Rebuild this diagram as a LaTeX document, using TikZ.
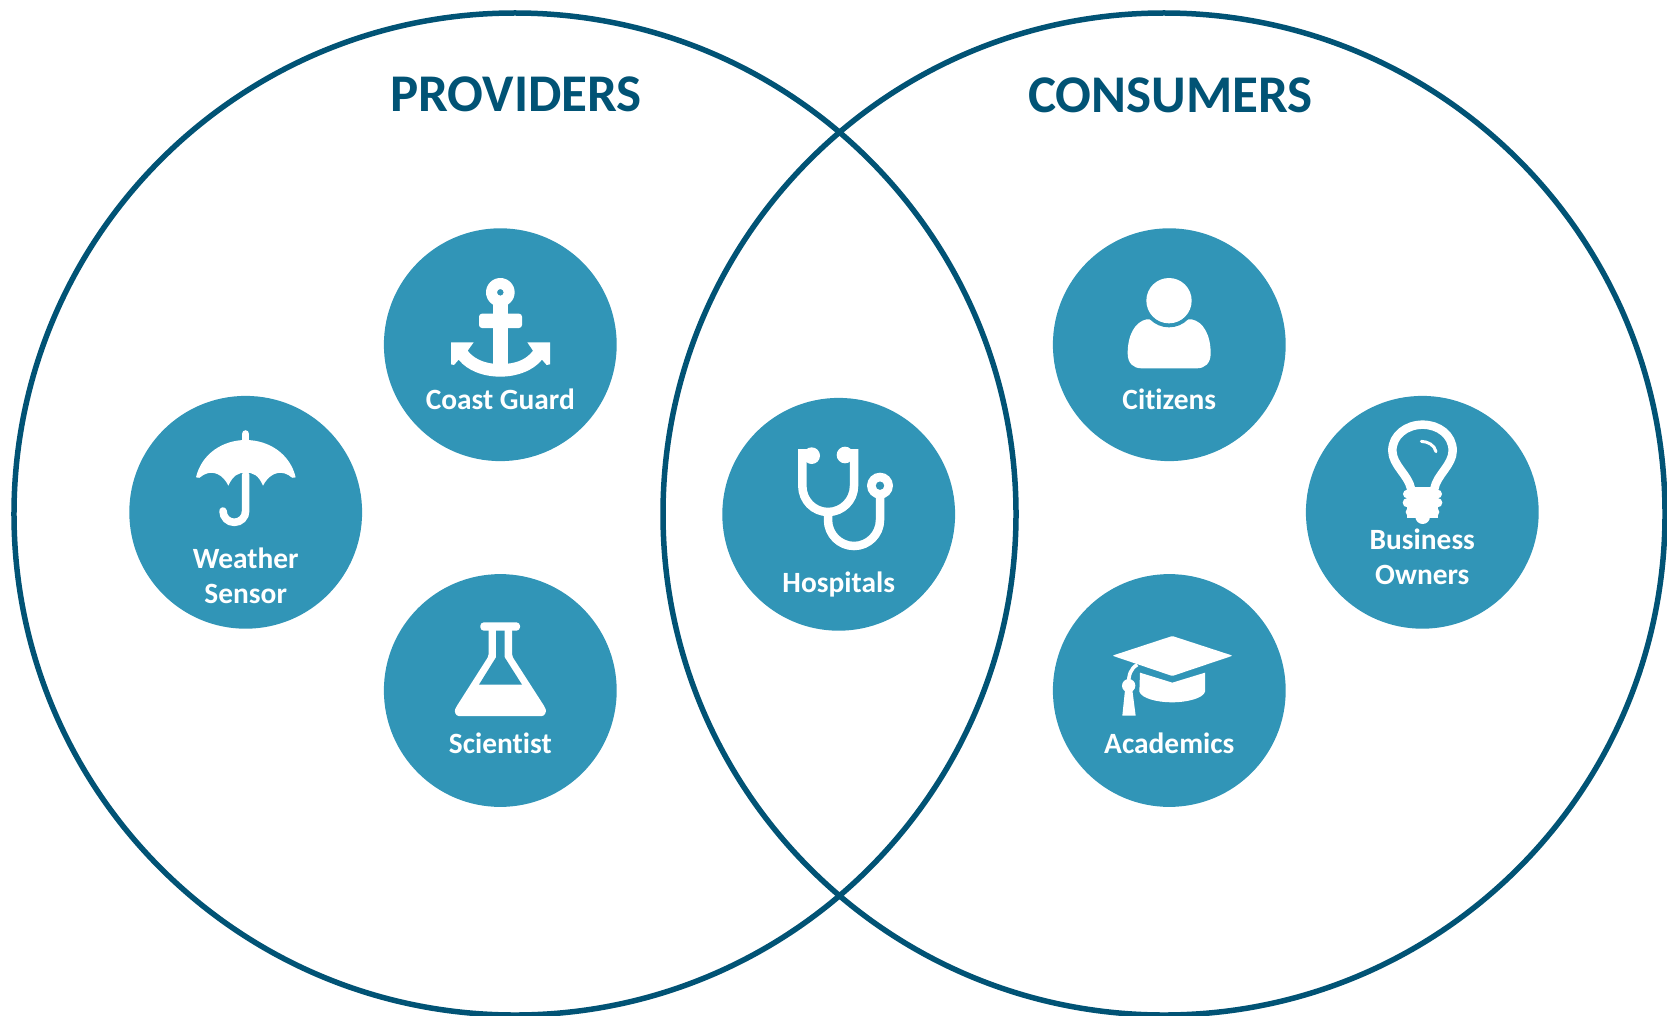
\documentclass[tikz,border=0pt]{standalone}
\usepackage{fontspec}
\setmainfont[Ligatures=NoCommon]{Carlito}
\definecolor{ringblue}{HTML}{015375}
\definecolor{discteal}{HTML}{3195B7}
\tikzset{
  bigring/.style={circle,draw=ringblue,line width=5.5bp,minimum size=1002bp,inner sep=0pt,outer sep=0pt},
  disc/.style={circle,fill=discteal,minimum size=232.8bp,inner sep=0pt,outer sep=0pt},
  title/.style={text=ringblue,font=\fontsize{53bp}{60bp}\selectfont\bfseries,anchor=base,inner sep=0pt},
  lbl/.style={text=white,font=\fontsize{29.4bp}{35bp}\selectfont\bfseries,anchor=base,inner sep=0pt,align=center},
  solidicon/.style={fill=white,draw=none,even odd rule},
  lineicon/.style={draw=white,fill=none,line width=8.5bp},
  iconbox/.style={scale=1/3}
}
\begin{document}
\begin{tikzpicture}[x=1bp,y=-1bp]
\useasboundingbox (0,0) rectangle (1667,1015);
\node[bigring] (provRing) at (515,514) {};
\node[bigring] (consRing) at (1164,514) {};
\node[title] (provTitle) at (516,111) {PROVIDERS};
\node[title] (consTitle) at (1170.5,112) {CONSUMERS};

\node[disc] (coast) at (500.3,344.7) {};
\node[disc] (weather) at (245.7,512.3) {};
\node[disc] (scientist) at (500.3,690.5) {};
\node[disc] (hospitals) at (838.7,514.3) {};
\node[disc] (citizens) at (1169.3,344.7) {};
\node[disc] (business) at (1422.3,512.3) {};
\node[disc] (academics) at (1169.3,690.5) {};

\node[lbl] (coastT) at (500.3,409.3) {Coast Guard};
\node[lbl] (weatherT) at (245.7,568.3) {Weather};
\node[lbl] (weatherU) at (245.7,603.3) {Sensor};
\node[lbl] (scientistT) at (500.3,753.8) {Scientist};
\node[lbl] (hospitalsT) at (838.7,592.3) {Hospitals};
\node[lbl] (citizensT) at (1169.3,409.3) {Citizens};
\node[lbl] (businessT) at (1422.3,549) {Business};
\node[lbl] (businessU) at (1422.3,584.3) {Owners};
\node[lbl] (academicsT) at (1169.3,753.3) {Academics};

% anchor
\begin{scope}[shift={(370,220)},iconbox]
\fill[solidicon] (391,217) circle[radius=43] (391,217) circle[radius=10];
\fill[white] (370,250) rectangle (413,440);
\fill[white,rounded corners=3bp] (327,281) rectangle (456,324);
\fill[white] (243,367) -- (311,367) -- (293,392)
  .. controls (310,415) and (340,428) .. (370,431) -- (413,431)
  .. controls (445,428) and (472,415) .. (489,392) -- (472,367) -- (540,367)
  -- (540,433) -- (530,435) -- (516,419)
  .. controls (490,452) and (440,470) .. (391,470)
  .. controls (340,470) and (292,452) .. (266,419)
  -- (252,435) -- (243,433) -- cycle;
\end{scope}

% umbrella
\begin{scope}[shift={(120,390)},iconbox]
\draw[white,line width=7.6bp,line cap=round] (377,132) -- (377,155);
\fill[white] (228,262) .. controls (245,190) and (310,150) .. (377,150)
  .. controls (445,150) and (510,190) .. (527,262)
  .. controls (520,268) and (515,262) .. (505,255)
  .. controls (475,238) and (445,255) .. (429,287)
  .. controls (415,255) and (400,248) .. (377,248)
  .. controls (355,248) and (340,255) .. (325,287)
  .. controls (310,255) and (280,238) .. (250,255)
  .. controls (240,262) and (235,268) .. (228,262) -- cycle;
\draw[white,line width=7.6bp,line cap=round] (377,255) -- (377,363)
  .. controls (377,382) and (362,397) .. (343,397)
  .. controls (324,397) and (309,382) .. (309,363);
\end{scope}

% flask
\begin{scope}[shift={(370,570)},iconbox]
\fill[white,rounded corners=3.5bp] (331,157) rectangle (450,182);
\fill[solidicon,rounded corners=2bp] (356,175) -- (356,258) -- (258,412)
  .. controls (252,425) and (258,438) .. (272,438) -- (510,438)
  .. controls (524,438) and (530,425) .. (525,412)
  -- (426,258) -- (426,175) -- cycle;
\fill[discteal] (378,182) -- (378,262) -- (327,344) -- (456,344) -- (404,262) -- (404,182) -- cycle;
\end{scope}

% stethoscope
\begin{scope}[shift={(710,390)},iconbox]
\draw[lineicon] (295,190) -- (277,190) -- (277,288)
  .. controls (277,331) and (311,366) .. (354,366)
  .. controls (397,366) and (432,331) .. (432,288) -- (432,190) -- (415,190);
\draw[lineicon] (354,366) -- (354,390)
  .. controls (354,433) and (389,468) .. (432,468)
  .. controls (475,468) and (510,433) .. (510,390) -- (510,320);
\fill[white] (305,197) circle[radius=25];
\fill[white] (405,195) circle[radius=25];
\fill[solidicon] (510,287) circle[radius=39] (510,287) circle[radius=13];
\end{scope}

% person
\begin{scope}[shift={(1040,220)},iconbox]
\fill[white] (320,298) .. controls (285,305) and (263,345) .. (263,400)
  .. controls (263,430) and (280,445) .. (305,445) -- (470,445)
  .. controls (495,445) and (512,430) .. (512,400)
  .. controls (512,345) and (490,305) .. (455,298) -- cycle;
\fill[discteal] (387,242) circle[radius=80];
\fill[white] (387,242) circle[radius=68];
\end{scope}

% bulb
\begin{scope}[shift={(1300,390)},iconbox]
\draw[lineicon] (333,296) .. controls (325,255) and (277,225) .. (277,182)
  .. controls (277,135) and (320,104) .. (368,104)
  .. controls (416,104) and (458,135) .. (458,182)
  .. controls (458,225) and (410,255) .. (403,296);
\draw[white,line width=3bp,line cap=round] (364,154) .. controls (385,155) and (403,165) .. (408,185);
\fill[white] (322,292) rectangle (413,385);
\fill[white] (322,312) circle[radius=13] (413,312) circle[radius=13];
\fill[white] (322,338) circle[radius=14] (413,338) circle[radius=14];
\fill[white] (332,366) circle[radius=15] (403,366) circle[radius=15];
\fill[white] (368,380) circle[radius=22];
\end{scope}

% mortarboard
\begin{scope}[shift={(1040,570)},iconbox]
\fill[white,rounded corners=1bp] (397,198) -- (578,257) -- (397,318) -- (217,257) -- cycle;
\fill[white] (300,308) -- (397,338) -- (495,308) -- (495,365)
  .. controls (490,385) and (440,397) .. (397,397)
  .. controls (350,397) and (305,385) .. (298,365) -- cycle;
\draw[white,line width=3.6bp] (292,284) .. controls (272,295) and (265,315) .. (266,345);
\fill[white] (266,347) circle[radius=20];
\fill[white] (255,360) -- (277,360) -- (287,437) -- (247,437) -- cycle;
\end{scope}
\end{tikzpicture}
\end{document}
